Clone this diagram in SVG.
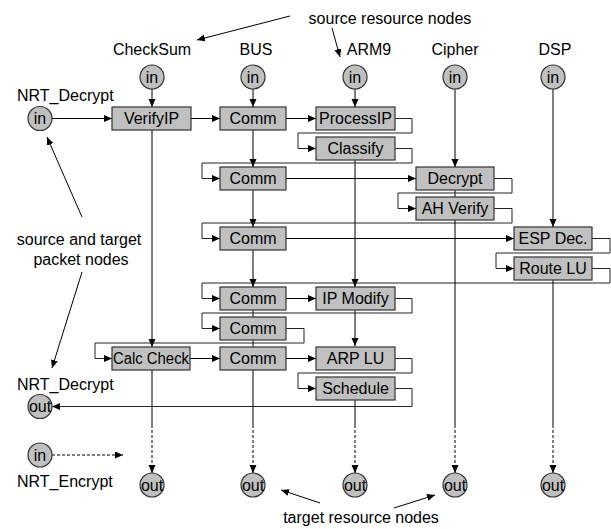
<svg xmlns="http://www.w3.org/2000/svg" width="611" height="529" viewBox="0 0 611 529">
  <defs>
    <marker id="arr" markerWidth="9" markerHeight="8" refX="8" refY="3.5" orient="auto" markerUnits="userSpaceOnUse">
      <path d="M0,0 L8,3.5 L0,7 z" fill="#000"/>
    </marker>
    <style>
      text { font-family: "Liberation Sans", Arial, sans-serif; font-size: 16px; fill: #000; }
      .box rect { fill: #c0c0c0; stroke: #333; stroke-width: 1.2; }
      .box text, .port text { text-anchor: middle; }
      .port circle { fill: #c0c0c0; stroke: #333; stroke-width: 1.2; }
      .lbl { text-anchor: middle; }
      .edge { fill: none; stroke: #000; stroke-width: 1; }
      .loop { fill: none; stroke: #222; stroke-width: 1; }
      .dash { fill: none; stroke: #000; stroke-width: 1; stroke-dasharray: 3 2; }
      .note { fill: none; stroke: #000; stroke-width: 1; }
    </style>
  </defs>
  <rect width="611" height="529" fill="#fff"/>

  <!-- annotations -->
  <text class="lbl" x="390" y="24">source resource nodes</text>
  <text class="lbl" x="361" y="523">target resource nodes</text>
  <text class="lbl" x="79" y="245">source and target</text>
  <text class="lbl" x="81" y="265">packet nodes</text>
  <text class="lbl" x="152" y="55">CheckSum</text>
  <text class="lbl" x="256" y="55">BUS</text>
  <text class="lbl" x="369" y="55">ARM9</text>
  <text class="lbl" x="455" y="55">Cipher</text>
  <text class="lbl" x="555" y="55">DSP</text>
  <text x="17" y="101">NRT_Decrypt</text>
  <text x="17" y="390">NRT_Decrypt</text>
  <text x="17" y="487">NRT_Encrypt</text>

  <g id="annotation-arrows">
    <path class="note" d="M290,16 L197,40" marker-end="url(#arr)"/>
    <path class="note" d="M332,28 L340,57" marker-end="url(#arr)"/>
    <path class="note" d="M82,217 L47,137" marker-end="url(#arr)"/>
    <path class="note" d="M82,272 L52,368" marker-end="url(#arr)"/>
    <path class="note" d="M320,503 L281,490" marker-end="url(#arr)"/>
    <path class="note" d="M394,508 L435,495" marker-end="url(#arr)"/>
  </g>

  <!-- connectors -->
  <g id="connectors">
    <!-- sources into first tasks -->
    <path class="edge" d="M52,118.5 H112" marker-end="url(#arr)"/>
    <path class="edge" d="M152,89 V107" marker-end="url(#arr)"/>
    <path class="edge" d="M253,89 V107" marker-end="url(#arr)"/>
    <path class="edge" d="M355,89 V107" marker-end="url(#arr)"/>
    <path class="edge" d="M455,89 V167" marker-end="url(#arr)"/>
    <path class="edge" d="M553,89 V227" marker-end="url(#arr)"/>

    <!-- horizontal task flow -->
    <path class="edge" d="M191,118.5 H220" marker-end="url(#arr)"/>
    <path class="edge" d="M286,118.5 H316" marker-end="url(#arr)"/>
    <path class="edge" d="M286,178.5 H416" marker-end="url(#arr)"/>
    <path class="edge" d="M286,238.5 H514" marker-end="url(#arr)"/>
    <path class="edge" d="M286,298.5 H316" marker-end="url(#arr)"/>
    <path class="edge" d="M190,358.5 H220" marker-end="url(#arr)"/>
    <path class="edge" d="M286,358.5 H316" marker-end="url(#arr)"/>

    <!-- resource columns -->
    <path class="edge" d="M152,130 V347" marker-end="url(#arr)"/>
    <path class="edge" d="M253,130 V167" marker-end="url(#arr)"/>
    <path class="edge" d="M253,190 V227" marker-end="url(#arr)"/>
    <path class="edge" d="M253,250 V287" marker-end="url(#arr)"/>
    <path class="edge" d="M253,310 V317"/>
    <path class="edge" d="M253,340 V347"/>
    <path class="edge" d="M355,160 V287" marker-end="url(#arr)"/>
    <path class="edge" d="M355,310 V346" marker-end="url(#arr)"/>
    <path class="edge" d="M455,190 V197"/>

    <!-- packet loops -->
    <path class="loop" d="M395,118.5 H412 V133 H298 V148.5 H316" marker-end="url(#arr)"/>
    <path class="loop" d="M395,148.5 H412 V163 H202 V178.5 H220" marker-end="url(#arr)"/>
    <path class="loop" d="M494,178.5 H512 V193 H398 V208.5 H416" marker-end="url(#arr)"/>
    <path class="loop" d="M494,208.5 H512 V223 H202 V238.5 H220" marker-end="url(#arr)"/>
    <path class="loop" d="M592,238.5 H610 V253 H496 V268.5 H514" marker-end="url(#arr)"/>
    <path class="loop" d="M592,268.5 H610 V283 H202 V298.5 H220" marker-end="url(#arr)"/>
    <path class="loop" d="M395,298.5 H412 V313 H202 V328.5 H220" marker-end="url(#arr)"/>
    <path class="loop" d="M286,328.5 H304 V343 H95 V358.5 H112" marker-end="url(#arr)"/>
    <path class="loop" d="M395,358.5 H412 V373 H298 V388.5 H316" marker-end="url(#arr)"/>
    <path class="loop" d="M395,388.5 H412 V406.5 H52" marker-end="url(#arr)"/>

    <!-- to target resource nodes -->
    <path class="edge" d="M152,370 V425"/>
    <path class="dash" d="M152,425 V473" marker-end="url(#arr)"/>
    <path class="edge" d="M253,370 V425"/>
    <path class="dash" d="M253,425 V473" marker-end="url(#arr)"/>
    <path class="edge" d="M355,400 V425"/>
    <path class="dash" d="M355,425 V473" marker-end="url(#arr)"/>
    <path class="edge" d="M455,220 V425"/>
    <path class="dash" d="M455,425 V473" marker-end="url(#arr)"/>
    <path class="edge" d="M553,280 V425"/>
    <path class="dash" d="M553,425 V473" marker-end="url(#arr)"/>
    <path class="dash" d="M52,455 H123" marker-end="url(#arr)"/>
  </g>

  <!-- source nodes -->
  <g id="in-decrypt" class="port"><circle cx="40" cy="118.5" r="12"/><text x="40" y="124">in</text></g>
  <g id="in-checksum" class="port"><circle cx="152" cy="77" r="12"/><text x="152" y="82.5">in</text></g>
  <g id="in-bus" class="port"><circle cx="253" cy="77" r="12"/><text x="253" y="82.5">in</text></g>
  <g id="in-arm9" class="port"><circle cx="355" cy="77" r="12"/><text x="355" y="82.5">in</text></g>
  <g id="in-cipher" class="port"><circle cx="455" cy="77" r="12"/><text x="455" y="82.5">in</text></g>
  <g id="in-dsp" class="port"><circle cx="553" cy="77" r="12"/><text x="553" y="82.5">in</text></g>
  <g id="in-encrypt" class="port"><circle cx="40" cy="455" r="12"/><text x="40" y="460.5">in</text></g>

  <!-- target nodes -->
  <g id="out-decrypt" class="port"><circle cx="40" cy="406.5" r="12"/><text x="40" y="412">out</text></g>
  <g id="out-checksum" class="port"><circle cx="152" cy="485" r="12"/><text x="152" y="490.5">out</text></g>
  <g id="out-bus" class="port"><circle cx="253" cy="485" r="12"/><text x="253" y="490.5">out</text></g>
  <g id="out-arm9" class="port"><circle cx="355" cy="485" r="12"/><text x="355" y="490.5">out</text></g>
  <g id="out-cipher" class="port"><circle cx="455" cy="485" r="12"/><text x="455" y="490.5">out</text></g>
  <g id="out-dsp" class="port"><circle cx="553" cy="485" r="12"/><text x="553" y="490.5">out</text></g>

  <!-- task nodes -->
  <g id="verifyip" class="box"><rect x="112" y="107" width="79" height="23"/><text x="151.5" y="124.2">VerifyIP</text></g>
  <g id="comm1" class="box"><rect x="220" y="107" width="66" height="23"/><text x="253" y="124.2">Comm</text></g>
  <g id="processip" class="box"><rect x="316" y="107" width="79" height="23"/><text x="355.5" y="124.2">ProcessIP</text></g>
  <g id="classify" class="box"><rect x="316" y="137" width="79" height="23"/><text x="355.5" y="154.2">Classify</text></g>
  <g id="comm2" class="box"><rect x="220" y="167" width="66" height="23"/><text x="253" y="184.2">Comm</text></g>
  <g id="decrypt" class="box"><rect x="416" y="167" width="78" height="23"/><text x="455" y="184.2">Decrypt</text></g>
  <g id="ahverify" class="box"><rect x="416" y="197" width="78" height="23"/><text x="455" y="214.2">AH Verify</text></g>
  <g id="comm3" class="box"><rect x="220" y="227" width="66" height="23"/><text x="253" y="244.2">Comm</text></g>
  <g id="espdec" class="box"><rect x="514" y="227" width="78" height="23"/><text x="553" y="244.2">ESP Dec.</text></g>
  <g id="routelu" class="box"><rect x="514" y="257" width="78" height="23"/><text x="553" y="274.2">Route LU</text></g>
  <g id="comm4" class="box"><rect x="220" y="287" width="66" height="23"/><text x="253" y="304.2">Comm</text></g>
  <g id="ipmodify" class="box"><rect x="316" y="287" width="79" height="23"/><text x="355.5" y="304.2">IP Modify</text></g>
  <g id="comm5" class="box"><rect x="220" y="317" width="66" height="23"/><text x="253" y="334.2">Comm</text></g>
  <g id="calccheck" class="box"><rect x="112" y="347" width="78" height="23"/><text x="151" y="364.2" textLength="76" lengthAdjust="spacingAndGlyphs">Calc Check</text></g>
  <g id="comm6" class="box"><rect x="220" y="347" width="66" height="23"/><text x="253" y="364.2">Comm</text></g>
  <g id="arplu" class="box"><rect x="316" y="347" width="79" height="23"/><text x="355.5" y="364.2">ARP LU</text></g>
  <g id="schedule" class="box"><rect x="316" y="377" width="79" height="23"/><text x="355.5" y="394.2">Schedule</text></g>
</svg>
